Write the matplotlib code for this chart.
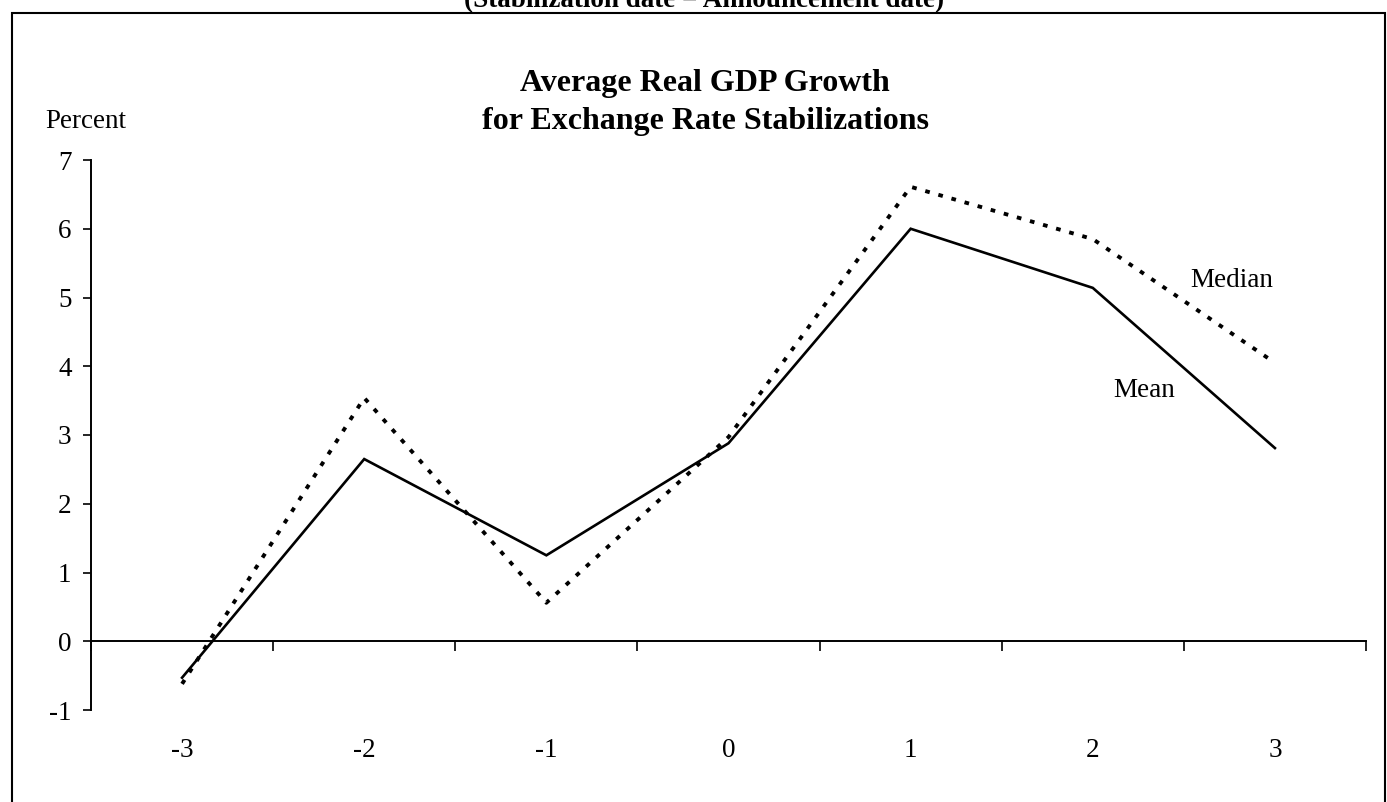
import numpy as np
import matplotlib
matplotlib.use("Agg")
import matplotlib.pyplot as plt
from matplotlib.patches import Rectangle

plt.rcParams['font.family'] = ['Liberation Serif', 'DejaVu Serif']
plt.rcParams['axes.unicode_minus'] = False

# years relative to stabilization
periods = ['-3', '-2', '-1', '0', '1', '2', '3']
mean_growth = [-0.53, 2.65, 1.25, 2.88, 6.00, 5.14, 2.81]
median_growth = [-0.62, 3.54, 0.56, 2.97, 6.61, 5.85, 4.05]

W, H = 1387, 802
fig = plt.figure(figsize=(W / 100, H / 100), dpi=100)

# axes box in pixel terms (left 91, right 1366, top 160, bottom 710)
ax = fig.add_axes([91 / W, 1 - 710 / H, (1366 - 91) / W, (710 - 160) / H])

x = np.arange(len(periods))
ax.plot(x, mean_growth, color='black', lw=1.9, solid_joinstyle='miter')
ax.plot(x, median_growth, color='black', lw=2.8, linestyle=(0, (1.2, 2.3)))

ax.set_xlim(-0.5, len(periods) - 0.5)
ax.set_ylim(-1, 7)
ax.set_yticks(range(-1, 8))
ax.tick_params(axis='y', direction='out', length=6, width=1.2, pad=8, labelsize=19.5)

# x axis drawn at zero, ticks between categories, labels below the plot
for s in ['top', 'right']:
    ax.spines[s].set_visible(False)
ax.spines['bottom'].set_position(('data', 0))
ax.spines['bottom'].set_linewidth(1.4)
ax.spines['left'].set_linewidth(1.4)
ax.set_xticks(x)
ax.set_xticklabels(periods)
ax.set_xticks(np.arange(len(periods) + 1) - 0.5, minor=True)
ax.tick_params(axis='x', which='major', length=0, pad=70, labelsize=19.5)
ax.tick_params(axis='x', which='minor', direction='out', length=7, width=1.2)

ax.text(5.535, 5.25, 'Median', fontsize=19.5, ha='left', va='center')
ax.text(5.11, 3.65, 'Mean', fontsize=19.5, ha='left', va='center')

# titles and unit label
fig.text(705 / W, 1 - 84 / H, 'Average Real GDP Growth', fontsize=23,
         fontweight='bold', ha='center', va='center')
fig.text(705 / W, 1 - 121 / H, 'for Exchange Rate Stabilizations', fontsize=23,
         fontweight='bold', ha='center', va='center')
fig.text(45 / W, 1 - 121 / H, 'Percent', fontsize=19.5, ha='left', va='center')

# header line from the page above, cut by the top edge as in the scan
fig.text(704 / W, 1 - 7 / H, '(Stabilization date = Announcement date)',
         fontsize=19.5, fontweight='bold', ha='center', va='baseline')

# frame around the chart
fig.patches.append(Rectangle((12 / W, -0.05), (1385 - 12) / W, 1 - 13 / H + 0.05,
                             transform=fig.transFigure, fill=False,
                             edgecolor='black', lw=1.5))

fig.savefig('out.png', dpi=100)
